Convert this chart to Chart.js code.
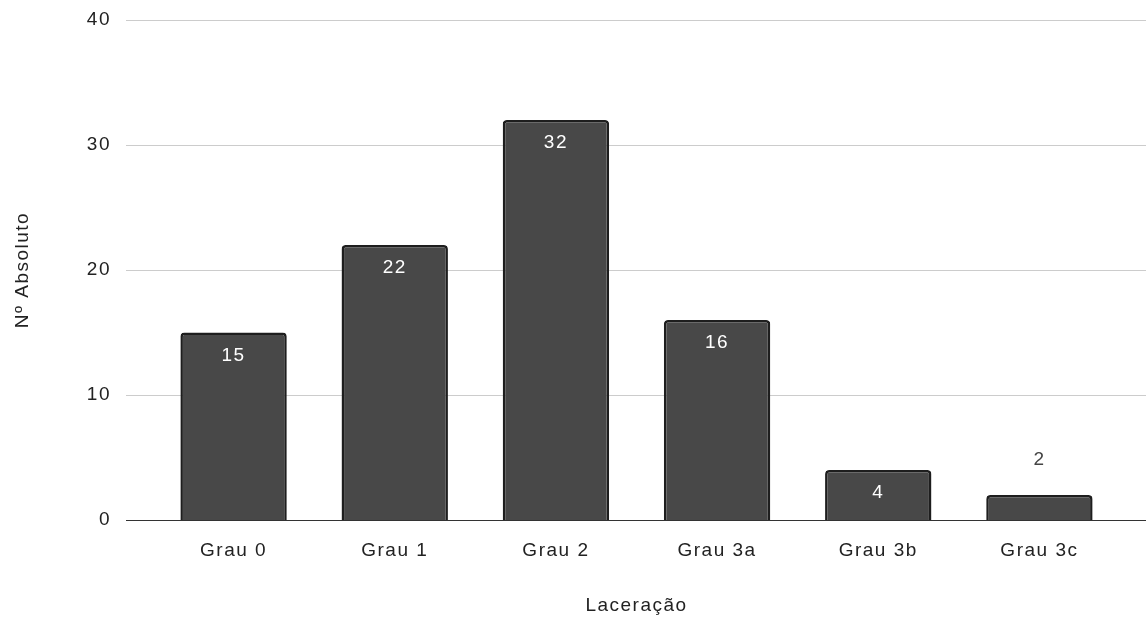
<!DOCTYPE html>
<html lang="pt">
<head>
  <meta charset="UTF-8">
  <title>Laceração</title>
  <script src="https://cdn.jsdelivr.net/npm/chart.js"></script>
  <style>
    body { margin: 0; padding: 0; background: white; }
    #wrap { width: 1146px; height: 619px; }
  </style>
</head>
<body>
  <div id="wrap"><canvas id="chart" width="1146" height="619"></canvas></div>
  <script>
    const categories = ['Grau 0', 'Grau 1', 'Grau 2', 'Grau 3a', 'Grau 3b', 'Grau 3c'];
    const counts = [15, 22, 32, 16, 4, 2];
    const yTicks = [0, 10, 20, 30, 40];

    const FONT = '"Liberation Sans", Arial, sans-serif';
    const SIZE = 19;

    // wider letter spacing like the original
    const spacingPlugin = {
      id: 'spacing',
      beforeLayout(chart) { chart.ctx.letterSpacing = '1.5px'; },
      beforeDraw(chart) { chart.ctx.letterSpacing = '1.5px'; }
    };

    // grid lines run wider than the bar area
    const gridPlugin = {
      id: 'wideGrid',
      beforeDatasetsDraw(chart) {
        const ctx = chart.ctx;
        const y = chart.scales.y;
        ctx.save();
        yTicks.forEach(v => {
          const py = Math.round(y.getPixelForValue(v)) + 0.5;
          ctx.beginPath();
          ctx.moveTo(126, py);
          ctx.lineTo(1146, py);
          ctx.strokeStyle = v === 0 ? '#333333' : '#cccccc';
          ctx.lineWidth = 1;
          ctx.stroke();
        });
        ctx.restore();
      }
    };

    // value labels on the bars
    const labelPlugin = {
      id: 'barLabels',
      afterDatasetsDraw(chart) {
        const ctx = chart.ctx;
        const meta = chart.getDatasetMeta(0);
        ctx.save();
        ctx.font = SIZE + 'px ' + FONT;
        ctx.textAlign = 'center';
        ctx.textBaseline = 'middle';
        meta.data.forEach((bar, i) => {
          const h = bar.base - bar.y;
          if (h > 40) {
            ctx.fillStyle = '#ffffff';
            ctx.fillText(String(counts[i]), bar.x, bar.y + 23);
          } else {
            ctx.fillStyle = '#444444';
            ctx.fillText(String(counts[i]), bar.x, bar.y - 35);
          }
        });
        ctx.restore();
      }
    };

    new Chart(document.getElementById('chart'), {
      type: 'bar',
      data: {
        labels: categories,
        datasets: [{
          data: counts,
          backgroundColor: '#484848',
          borderColor: '#1e1e1e',
          borderWidth: 2.5,
          borderRadius: 4,
          borderSkipped: 'bottom',
          barPercentage: 0.66,
          categoryPercentage: 1
        }]
      },
      options: {
        responsive: false,
        animation: false,
        layout: { padding: { top: 20, right: 26, left: 0, bottom: 0 } },
        plugins: {
          legend: { display: false },
          tooltip: { enabled: false }
        },
        scales: {
          x: {
            // tick marks hidden, their length only moves the labels down
            grid: { display: false, drawTicks: true, tickLength: 19 },
            border: { display: false },
            ticks: { color: '#222222', padding: 0, font: { family: FONT, size: SIZE } },
            title: {
              display: true, text: 'Laceração', color: '#222222',
              font: { family: FONT, size: SIZE }, padding: { top: 0, bottom: 2 }
            },
            afterFit(scale) { scale.height = 99; }
          },
          y: {
            min: 0, max: 40,
            afterBuildTicks(scale) { scale.ticks = yTicks.map(v => ({ value: v })); },
            grid: { display: false, drawTicks: true, tickLength: 42 },
            border: { display: false },
            ticks: { color: '#222222', padding: 0, font: { family: FONT, size: SIZE } },
            title: {
              display: true, text: 'Nº Absoluto', color: '#222222',
              font: { family: FONT, size: SIZE }, padding: { top: 11, bottom: 0 }
            },
            afterFit(scale) { scale.width = 153; }
          }
        }
      },
      plugins: [spacingPlugin, gridPlugin, labelPlugin]
    });
  </script>
</body>
</html>
